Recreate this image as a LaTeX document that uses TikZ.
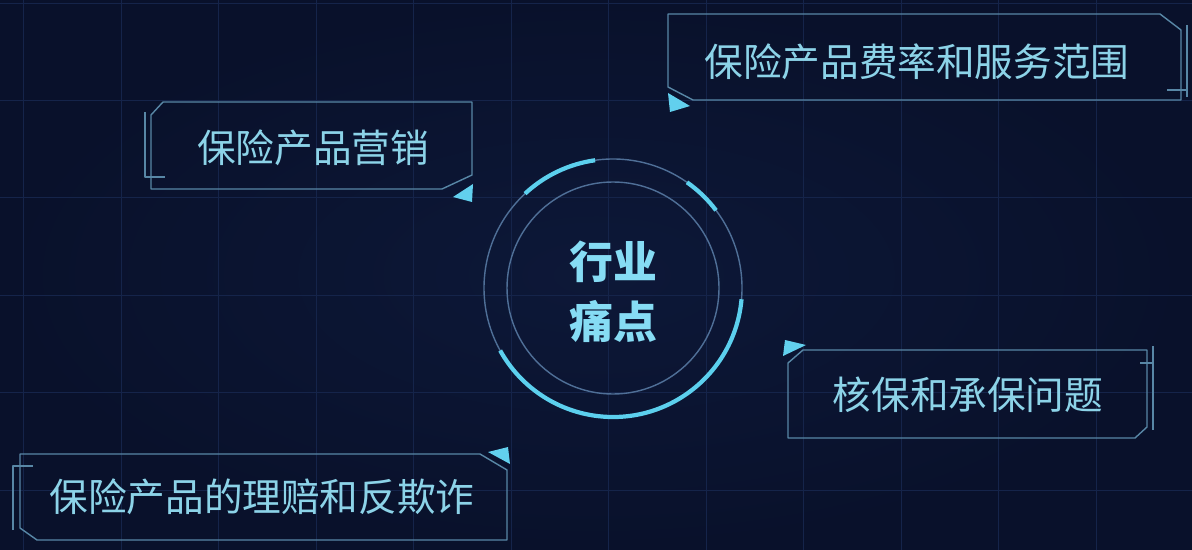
\documentclass[tikz,border=0pt]{standalone}
\usepackage{fontspec}
\newfontfamily\cjk{Noto Sans CJK SC}
\definecolor{bgin}{HTML}{0D1838}
\definecolor{bgout}{HTML}{09112B}
\definecolor{gridc}{HTML}{15244A}
\definecolor{boxline}{HTML}{5887A6}
\definecolor{labeltext}{HTML}{8CD3E8}
\definecolor{tipcyan}{HTML}{62D0EE}
\definecolor{ringthin}{HTML}{4F6F97}
\definecolor{ringbright}{HTML}{5CD0EE}
\definecolor{centertext}{HTML}{86DCF4}
\begin{document}
\begin{tikzpicture}[x=0.02cm,y=-0.02cm,
    frame/.style={draw=boxline,line width=0.8pt,line join=round},
    tip/.style={fill=tipcyan},
    label/.style={font=\cjk\fontsize{22}{26}\selectfont,text=labeltext},
    hub/.style={font=\cjk\bfseries\fontsize{25}{34}\selectfont,text=centertext,align=center}]
  \shade[inner color=bgin,outer color=bgout] (0,0) rectangle (1192,550);
  \useasboundingbox (0,0) rectangle (1192,550);
  \foreach \x in {23,121,218,316,413,511,608,706,803,901,998,1096}
    \draw[gridc,line width=0.5pt] (\x,0) -- (\x,550);
  \foreach \y in {3,100,197,295,392,490}
    \draw[gridc,line width=0.5pt] (0,\y) -- (1192,\y);

  \node[hub] (pain) at (613,292) {行业\\痛点};
  \draw[ringthin,line width=0.8pt] (613,288) circle[radius=106];
  \draw[ringthin,line width=0.8pt] (613,288) circle[radius=129];
  \begin{scope}[ringbright,line width=2.4pt]
    \draw (613,288) ++(-133:129) arc[start angle=-133,end angle=-98,radius=129];
    \draw (613,288) ++(-55:129) arc[start angle=-55,end angle=-37,radius=129];
    \draw (613,288) ++(5:129) arc[start angle=5,end angle=151,radius=129];
  \end{scope}

  \node[label] (sales) at (313,148) {保险产品营销};
  \draw[frame] (163,102) -- (472,102) -- (472,175) -- (442,189) -- (151,189) -- (151,115) -- cycle;
  \draw[frame] (145,112) -- (145,177) -- (165,177);
  \fill[tip] (473,184) -- (453,197) -- (472,202) -- cycle;

  \node[label] (rates) at (917,62) {保险产品费率和服务范围};
  \draw[frame] (668,14) -- (1160,14) -- (1181,30) -- (1181,100) -- (693,100) -- (668,87) -- cycle;
  \draw[frame] (1187,25) -- (1187,97) (1167,90) -- (1187,90);
  \fill[tip] (668,93) -- (690,106) -- (670,112) -- cycle;

  \node[label] (underwrite) at (968,395) {核保和承保问题};
  \draw[frame] (803,350) -- (1147,350) -- (1147,427) -- (1135,438) -- (788,438) -- (788,363) -- cycle;
  \draw[frame] (1153,346) -- (1153,430) (1140,363) -- (1153,363);
  \fill[tip] (785,340) -- (806,345) -- (783,356) -- cycle;

  \node[label] (claims) at (262,497) {保险产品的理赔和反欺诈};
  \draw[frame] (20,454) -- (480,454) -- (507,470) -- (507,540) -- (37,540) -- (20,528) -- cycle;
  \draw[frame] (13,530) -- (13,466) -- (33,466);
  \fill[tip] (488,452) -- (508,447) -- (510,464) -- cycle;
\end{tikzpicture}
\end{document}
